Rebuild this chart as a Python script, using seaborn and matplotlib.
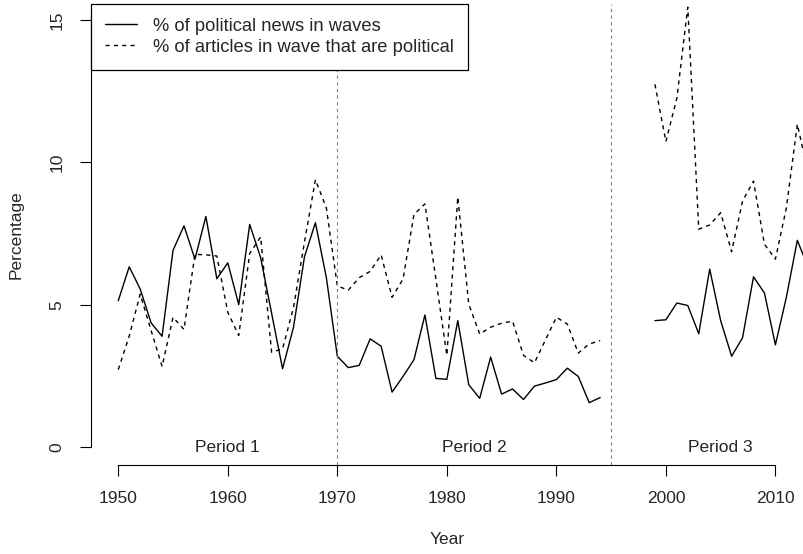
import pandas as pd
import matplotlib
matplotlib.use('Agg')
import matplotlib.pyplot as plt
import seaborn as sns
from matplotlib.lines import Line2D

# years with data (gap 1995-1998)
years_early = list(range(1950, 1995))
years_late = list(range(1999, 2014))

# % of political news in waves
news_early = [5.14, 6.33, 5.55, 4.36, 3.89, 6.91, 7.77, 6.60, 8.10, 5.91,
              6.47, 5.00, 7.82, 6.65, 4.70, 2.75, 4.21, 6.68, 7.88, 5.95,
              3.19, 2.79, 2.87, 3.80, 3.54, 1.93, 2.48, 3.07, 4.64, 2.41,
              2.38, 4.44, 2.19, 1.71, 3.16, 1.86, 2.04, 1.67, 2.14, 2.25,
              2.37, 2.77, 2.48, 1.56, 1.74]
news_late = [4.44, 4.47, 5.06, 4.97, 3.98, 6.25, 4.44, 3.19, 3.84, 5.98,
             5.41, 3.59, 5.26, 7.26, 6.30]

# % of articles in wave that are political
articles_early = [2.72, 3.90, 5.37, 4.09, 2.83, 4.56, 4.13, 6.77, 6.75, 6.71,
                  4.73, 3.92, 6.80, 7.38, 3.33, 3.45, 4.90, 7.20, 9.39, 8.40,
                  5.66, 5.51, 5.95, 6.17, 6.75, 5.26, 5.90, 8.17, 8.54, 5.90,
                  3.22, 8.78, 5.02, 3.97, 4.21, 4.35, 4.42, 3.22, 2.96, 3.76,
                  4.56, 4.32, 3.30, 3.62, 3.74]
articles_late = [12.74, 10.73, 12.25, 15.45, 7.65, 7.80, 8.23, 6.86, 8.64, 9.34,
                 7.12, 6.60, 8.40, 11.34, 9.60]

series_names = ['% of political news in waves',
                '% of articles in wave that are political']
period_labels = ['Period 1', 'Period 2', 'Period 3']
period_x = [1960, 1982.5, 2005]
period_breaks = [1970, 1995]

frames = []
for name, early, late in [(series_names[0], news_early, news_late),
                          (series_names[1], articles_early, articles_late)]:
    frames.append(pd.DataFrame({'year': years_early, 'value': early,
                                'series': name, 'seg': name + '_a'}))
    frames.append(pd.DataFrame({'year': years_late, 'value': late,
                                'series': name, 'seg': name + '_b'}))
df = pd.concat(frames, ignore_index=True)

sns.set_theme(style='white')
plt.rcParams['font.family'] = ['Liberation Sans', 'DejaVu Sans']
fs = 12.5

fig = plt.figure(figsize=(8.04, 5.54), dpi=100)
ax = fig.add_axes([91 / 804, (554 - 465) / 554, 713 / 804, 461 / 554])

sns.lineplot(data=df, x='year', y='value', style='series', units='seg',
             estimator=None, color='black', linewidth=1.0,
             dashes={series_names[0]: '', series_names[1]: (3, 3)},
             legend=False, ax=ax)

for b in period_breaks:
    ax.axvline(b, color='gray', linestyle=(0, (3, 3)), linewidth=0.8)

for lab, xp in zip(period_labels, period_x):
    ax.text(xp, 0, lab, ha='center', va='center', fontsize=fs)

ax.set_xlim(1947.51, 2012.61)
ax.set_ylim(-0.63, 15.56)
ax.set_xticks([1950, 1960, 1970, 1980, 1990, 2000, 2010])
ax.set_yticks([0, 5, 10, 15])
ax.tick_params(axis='both', direction='out', length=8, width=0.8,
               color='black', labelsize=fs, pad=11, left=True, bottom=True)
for lbl in ax.get_yticklabels():
    lbl.set_rotation(90)
    lbl.set_va('center')

for s in ['top', 'right']:
    ax.spines[s].set_visible(False)
ax.spines['left'].set_bounds(0, 15)
ax.spines['bottom'].set_bounds(1950, 2010)
for s in ['left', 'bottom']:
    ax.spines[s].set_color('black')
    ax.spines[s].set_linewidth(0.8)

ax.set_xlabel('Year', fontsize=fs)
ax.set_ylabel('Percentage', fontsize=fs)
ax.xaxis.set_label_coords(0.5, (465 - 532) / 461)
ax.yaxis.set_label_coords((15 - 91) / 713 + 0.012, 0.5)

handles = [Line2D([], [], color='black', lw=1.0),
           Line2D([], [], color='black', lw=1.0, linestyle=(0, (3, 3)))]
leg = ax.legend(handles, series_names, loc='upper left', bbox_to_anchor=(0, 1.0),
                borderaxespad=0, frameon=True, fancybox=False, framealpha=1,
                edgecolor='black', fontsize=13.2, handlelength=1.75,
                handletextpad=0.9, labelspacing=0.22, borderpad=0.75)
leg.get_frame().set_linewidth(0.9)

fig.savefig('out.png', dpi=100)
